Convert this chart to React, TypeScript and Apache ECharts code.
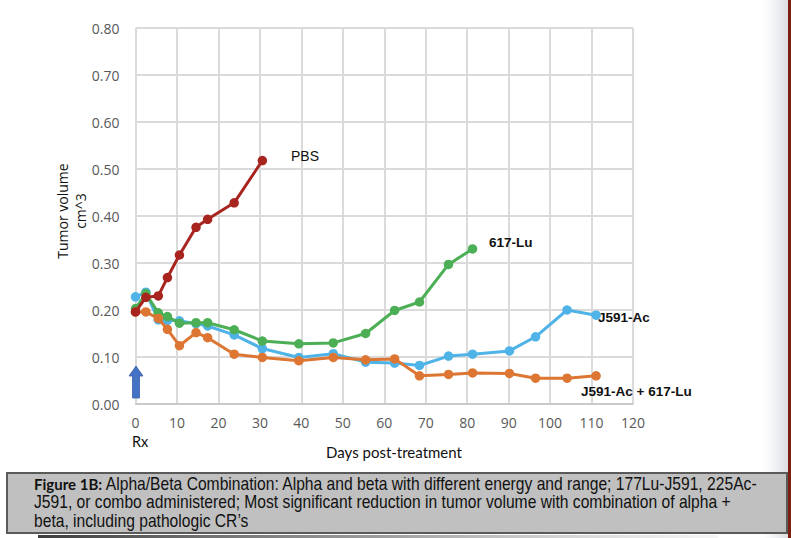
import React, { useEffect, useRef } from "react";
import * as echarts from "echarts";

// Measurement days after treatment (shared by all groups)
const days = [0, 2.5, 5.5, 7.7, 10.6, 14.6, 17.4, 23.8, 30.6, 39.4, 47.7, 55.5, 62.5, 68.5, 75.5, 81.3, 90.2, 96.5, 104.1, 111.1];

// Tumor volume (cm^3) per group
const pbsValues = [0.196, 0.227, 0.23, 0.269, 0.317, 0.376, 0.393, 0.428, 0.518];
const lu617Values = [0.203, 0.235, 0.194, 0.186, 0.172, 0.173, 0.173, 0.158, 0.134, 0.128, 0.13, 0.15, 0.199, 0.217, 0.297, 0.33];
const acJ591Values = [0.228, 0.238, 0.179, 0.178, 0.177, 0.171, 0.166, 0.147, 0.118, 0.099, 0.107, 0.089, 0.087, 0.082, 0.102, 0.106, 0.113, 0.143, 0.2, 0.189];
const comboValues = [0.196, 0.196, 0.182, 0.159, 0.124, 0.152, 0.141, 0.106, 0.099, 0.092, 0.099, 0.094, 0.096, 0.06, 0.063, 0.066, 0.065, 0.055, 0.055, 0.06];

// drawing order: first is bottom-most
const seriesNames = ["J591-Ac", "617-Lu", "J591-Ac + 617-Lu", "PBS"];
const seriesColors = ["#4fb3e8", "#4caf55", "#dd7632", "#a8241f"];

const captionLead = "Figure 1B:";
const captionLines = [
  "Alpha/Beta Combination: Alpha and beta with different energy and range; 177Lu-J591, 225Ac-",
  "J591, or combo administered; Most significant reduction in tumor volume with combination of alpha +",
  "beta, including pathologic CR\u2019s",
];

const pairs = (vals: number[]) => vals.map((v, i) => [days[i], v]);

function measure(text: string, font: string): number {
  const ctx = document.createElement("canvas").getContext("2d");
  if (!ctx) return text.length * 7;
  ctx.font = font;
  return ctx.measureText(text).width;
}

export default function App() {
  const ref = useRef<HTMLDivElement>(null);

  useEffect(() => {
    if (!ref.current) return;
    const chart = echarts.init(ref.current, null, { renderer: "svg" });
    const valueSets = [acJ591Values, lu617Values, comboValues, pbsValues];

    const labelFont = "'Liberation Sans', Arial, sans-serif";
    const captionFont = "16px 'Liberation Sans', Arial, sans-serif";
    const leadFont = "bold 15px Lato, sans-serif";

    // narrow caption face: condense the regular sans horizontally
    const captionScale = 697 / measure(captionLines[1], captionFont);
    const leadWidth = measure(captionLead + " ", leadFont);

    chart.setOption({
      animation: false,
      backgroundColor: "#ffffff",
      grid: { left: 135.5, right: 158, top: 28, bottom: 134 },
      xAxis: {
        type: "value",
        min: 0,
        max: 120,
        interval: 10,
        axisLine: { show: true, lineStyle: { color: "#c4c4c4", width: 1.5 } },
        axisTick: { show: false },
        splitLine: { show: true, lineStyle: { color: "#dadada", width: 2 } },
        axisLabel: { color: "#595959", fontSize: 14, fontFamily: "'Open Sans', sans-serif", margin: 11 },
      },
      yAxis: {
        type: "value",
        min: 0,
        max: 0.8,
        interval: 0.1,
        axisLine: { show: false },
        axisTick: { show: false },
        splitLine: { show: true, lineStyle: { color: "#dadada", width: 2 } },
        axisLabel: {
          color: "#595959",
          fontSize: 14,
          fontFamily: "'Open Sans', sans-serif",
          margin: 16,
          formatter: (v: number) => v.toFixed(2),
        },
      },
      series: seriesNames.map((name, i) => ({
        name,
        type: "line",
        data: pairs(valueSets[i]),
        symbol: "circle",
        symbolSize: 9.5,
        showSymbol: true,
        z: 2 + i,
        lineStyle: { color: seriesColors[i], width: 3 },
        itemStyle: { color: seriesColors[i] },
      })),
      graphic: [
        // series labels
        { type: "text", z: 50, left: 291, top: 149, style: { text: "PBS", font: `14px ${labelFont}`, fill: "#111" } },
        { type: "text", z: 50, left: 489, top: 235, style: { text: "617-Lu", font: `bold 13.5px ${labelFont}`, fill: "#111" } },
        { type: "text", z: 50, left: 598, top: 310, style: { text: "J591-Ac", font: `bold 13.5px ${labelFont}`, fill: "#111" } },
        { type: "text", z: 50, left: 581, top: 384, style: { text: "J591-Ac + 617-Lu", font: `bold 13.5px ${labelFont}`, fill: "#111" } },
        // y axis title
        {
          type: "text",
          z: 50,
          x: 71,
          y: 211,
          rotation: Math.PI / 2,
          style: {
            text: "Tumor volume\ncm^3",
            font: "14px 'Open Sans', sans-serif",
            fill: "#111",
            align: "center",
            verticalAlign: "middle",
            lineHeight: 18,
          },
        },
        // x axis title and treatment marker
        {
          type: "text",
          z: 50,
          x: 394,
          y: 452,
          style: { text: "Days post-treatment", font: "15px Lato, sans-serif", fill: "#111", align: "center", verticalAlign: "middle" },
        },
        { type: "text", z: 50, x: 132, y: 441, style: { text: "Rx", font: "14.5px Lato, sans-serif", fill: "#111", verticalAlign: "middle" } },
        {
          type: "polygon",
          z: 20,
          shape: {
            points: [
              [136, 366],
              [143, 376],
              [139.5, 376],
              [139.5, 398],
              [132.5, 398],
              [132.5, 376],
              [129, 376],
            ],
          },
          style: { fill: "#4472c4", stroke: "#3a5fa8", lineWidth: 0.8 },
        },
        // page edge shading
        {
          type: "rect",
          shape: { x: 762, y: 0, width: 26, height: 538 },
          style: {
            fill: new echarts.graphic.LinearGradient(0, 0, 1, 0, [
              { offset: 0, color: "rgba(230,232,236,0)" },
              { offset: 1, color: "rgba(215,218,224,0.9)" },
            ]),
          },
          silent: true,
        },
        { type: "rect", shape: { x: 788, y: 0, width: 3, height: 538 }, style: { fill: "#7c1e12" }, silent: true },
        {
          type: "rect",
          shape: { x: 38, y: 535, width: 680, height: 3 },
          style: {
            fill: new echarts.graphic.LinearGradient(0, 0, 1, 0, [
              { offset: 0, color: "rgba(40,40,40,0.9)" },
              { offset: 0.5, color: "rgba(90,90,90,0.6)" },
              { offset: 1, color: "rgba(150,150,150,0.1)" },
            ]),
          },
          silent: true,
        },
        // caption box
        {
          type: "rect",
          z: 25,
          shape: { x: 7, y: 473, width: 780, height: 60 },
          style: { fill: "#c0c0c0", stroke: "#5a5a5a", lineWidth: 2 },
        },
        {
          type: "text",
          z: 30,
          x: 34,
          y: 484,
          style: { text: captionLead, font: leadFont, fill: "#111", verticalAlign: "middle" },
        },
        ...captionLines.map((line, i) => ({
          type: "text",
          z: 30,
          x: i === 0 ? 34 + leadWidth : 34,
          y: 484 + i * 18.5,
          scaleX: captionScale,
          scaleY: 1.1,
          style: {
            text: line,
            font: captionFont,
            fill: "#111",
            verticalAlign: "middle",
          },
        })),
      ],
    });

    return () => chart.dispose();
  }, []);

  return <div ref={ref} style={{ position: "fixed", left: 0, top: 0, width: 791, height: 538 }} />;
}
